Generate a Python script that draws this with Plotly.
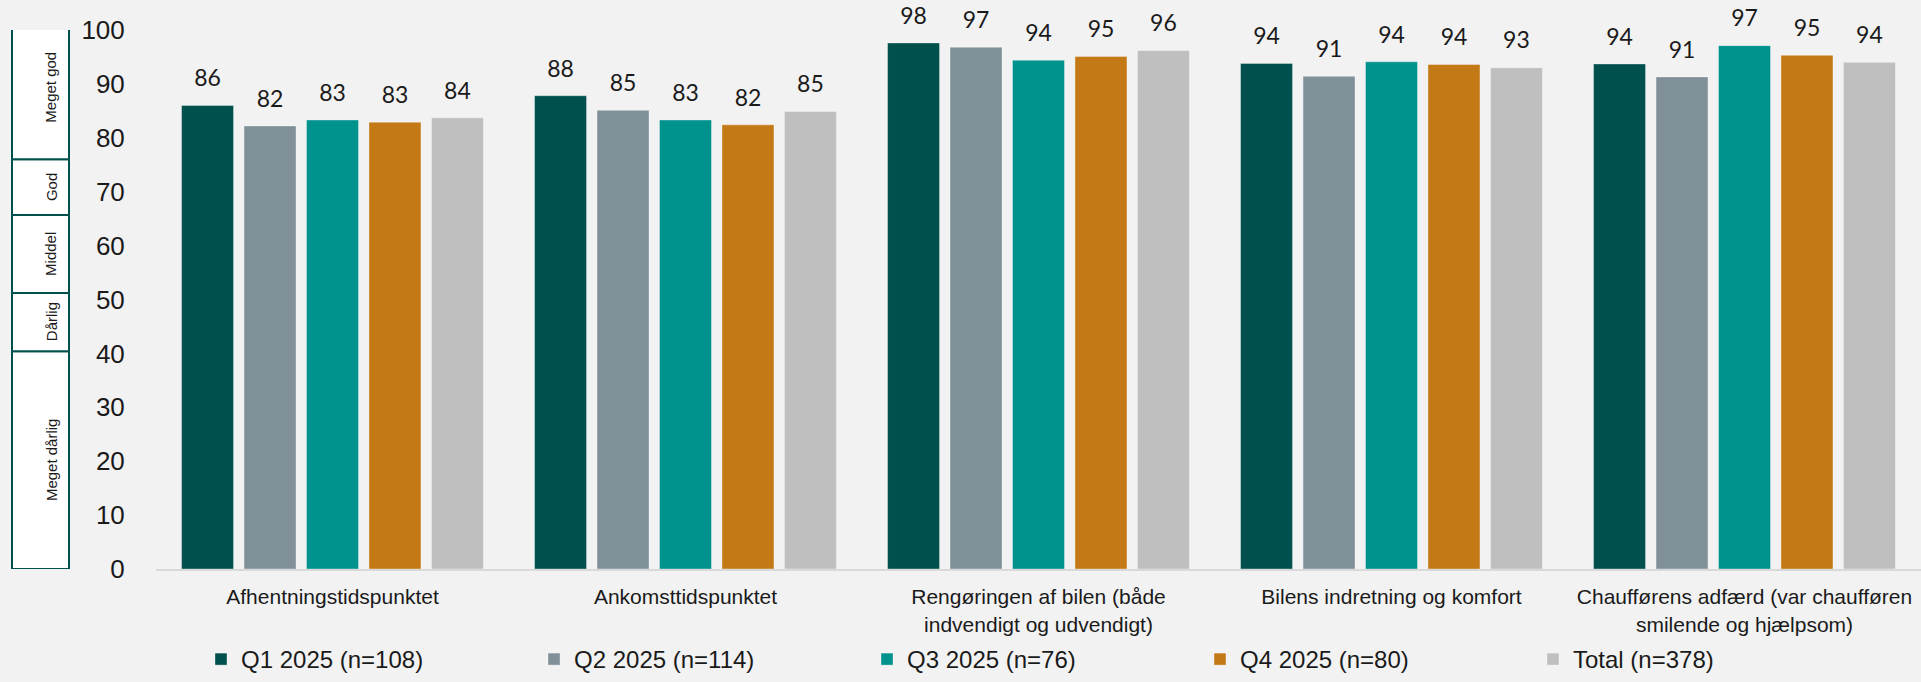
import plotly.graph_objects as go

# Kategorier og serier
categories = [
    "Afhentningstidspunktet",
    "Ankomsttidspunktet",
    "Rengøringen af bilen (både<br>indvendigt og udvendigt)",
    "Bilens indretning og komfort",
    "Chaufførens adfærd (var chaufføren<br>smilende og hjælpsom)",
]
series_names = ["Q1 2025 (n=108)", "Q2 2025 (n=114)", "Q3 2025 (n=76)", "Q4 2025 (n=80)", "Total (n=378)"]
q1 = [86.0, 87.8, 97.6, 93.8, 93.7]
q2 = [82.2, 85.1, 96.8, 91.4, 91.3]
q3 = [83.3, 83.3, 94.4, 94.1, 97.1]
q4 = [82.9, 82.4, 95.1, 93.6, 95.3]
total = [83.7, 84.9, 96.2, 93.0, 94.0]
y_ticks = [0, 10, 20, 30, 40, 50, 60, 70, 80, 90, 100]

# Skala-bokse til venstre
rating_labels = ["Meget dårlig", "Dårlig", "Middel", "God", "Meget god"]
band_edges = [0, 40.4, 51.2, 65.7, 76.0, 102.6]

colors = ["#00504E", "#7F9099", "#00928D", "#C37A16", "#BFBFBF"]
series = [q1, q2, q3, q4, total]

W, H = 1921, 682
L, R, T, B = 156, 0, 30, 106
plot_w = W - L - R
plot_h = H - T - B

def px_x(px):
    return (px - L) / plot_w

fig = go.Figure()

for name, vals, col in zip(series_names, series, colors):
    fig.add_trace(go.Bar(
        x=categories, y=vals, name=name,
        marker=dict(color=col, line=dict(color="rgba(255,255,255,0.35)", width=1)),
        hoverinfo="skip",
    ))

# Dataetiketter som usynlige punkter med tekst
for name, vals in zip(series_names, series):
    fig.add_trace(go.Scatter(
        x=categories, y=vals, mode="markers+text",
        texttemplate="%{y:.0f}", textposition="top center",
        textfont=dict(family="Lato, Open Sans, sans-serif", size=23, color="#1A1A1A"),
        marker=dict(size=20, color="rgba(0,0,0,0)"),
        showlegend=False, hoverinfo="skip", cliponaxis=False,
    ))

shapes = []
annotations = []
for lab, y0, y1 in zip(rating_labels, band_edges[:-1], band_edges[1:]):
    shapes.append(dict(
        type="rect", xref="paper", yref="y",
        x0=px_x(12), x1=px_x(69), y0=y0, y1=y1,
        fillcolor="white", line=dict(color="#00504E", width=2),
    ))
    annotations.append(dict(
        xref="paper", yref="y", x=px_x(40.5), y=(y0 + y1) / 2,
        text=lab, textangle=-90, showarrow=False,
        font=dict(family="Liberation Sans Narrow, Arial Narrow, Liberation Sans", size=15, color="#1A1A1A"),
    ))

fig.update_layout(
    width=W, height=H,
    margin=dict(l=L, r=R, t=T, b=B),
    paper_bgcolor="#F2F2F2", plot_bgcolor="#F2F2F2",
    barmode="group", bargap=0.115, bargroupgap=0.168,
    scattermode="group", scattergap=0.115,
    font=dict(family="Liberation Sans, Arial, sans-serif", color="#1A1A1A"),
    legend=dict(
        orientation="h", x=px_x(201), xanchor="left",
        y=(H - 668 - B) / plot_h, yanchor="middle",
        font=dict(size=24), entrywidth=288, bgcolor="rgba(0,0,0,0)",
    ),
    shapes=shapes, annotations=annotations,
)
fig.update_yaxes(
    range=[0, 100], tickvals=y_ticks, showgrid=False, zeroline=False, showline=False,
    ticks="outside", ticklen=25, tickcolor="rgba(0,0,0,0)",
    tickfont=dict(size=26, color="#1A1A1A"),
)
fig.update_xaxes(
    showline=True, linecolor="#D9D9D9", linewidth=2, showgrid=False,
    ticks="outside", ticklen=8, tickcolor="rgba(0,0,0,0)",
    tickfont=dict(size=21, color="#1A1A1A"),
)

# fjern sidens standardmargen, så figuren står i øverste venstre hjørne
fig.write_html("out.html", config={"displayModeBar": False},
               post_script="document.body.style.margin='0';")
